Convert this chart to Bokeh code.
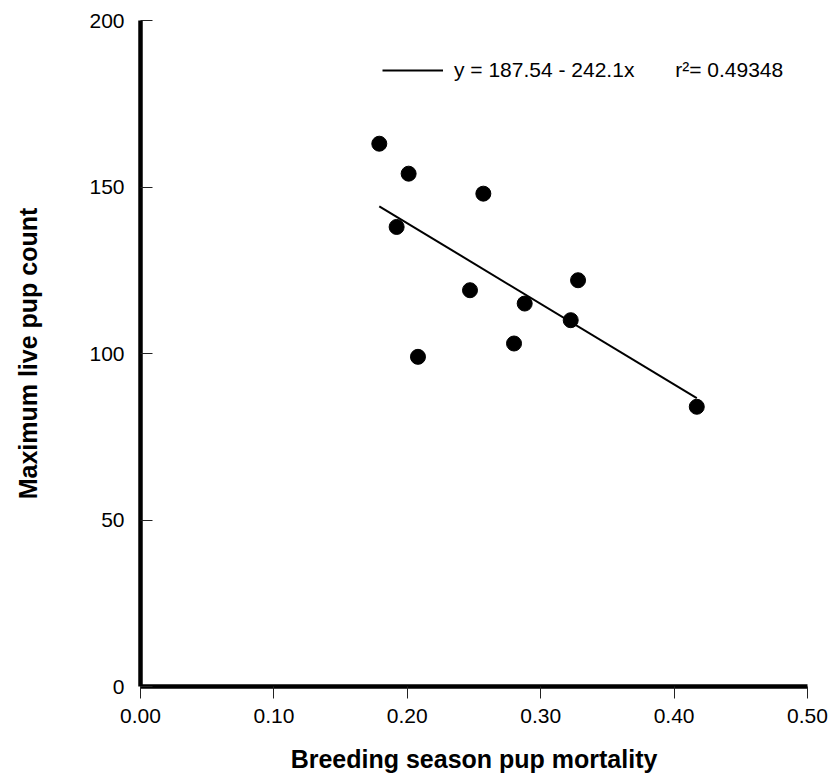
from bokeh.plotting import figure
from bokeh.models import Range1d, FixedTicker, Legend, LegendItem, NumeralTickFormatter
from bokeh.embed import file_html
from bokeh.resources import INLINE

# Data
mortality = [0.179, 0.201, 0.257, 0.192, 0.247, 0.288, 0.328, 0.3225, 0.280, 0.208, 0.417]
pup_count = [163, 154, 148, 138, 119, 115, 122, 110, 103, 99, 84]

# Regression shown on the chart
intercept = 187.54
slope = -242.1
r_squared = 0.49348

x_ticks = [0.0, 0.1, 0.2, 0.3, 0.4, 0.5]
y_ticks = [0, 50, 100, 150, 200]

x_title = "Breeding season pup mortality"
y_title = "Maximum live pup count"

FONT = "Liberation Sans"

p = figure(width=831, height=780,
           x_range=Range1d(0, 0.5), y_range=Range1d(0, 200),
           output_backend="svg", toolbar_location=None,
           min_border_left=140, min_border_right=24,
           min_border_top=20, min_border_bottom=94)

p.grid.visible = False
p.outline_line_color = None
p.background_fill_color = "white"
p.border_fill_color = "white"

# Regression line across the data range
fit_x = [min(mortality), max(mortality)]
fit_y = [intercept + slope * v for v in fit_x]
fit = p.line(fit_x, fit_y, line_color="black", line_width=2)

p.scatter(mortality, pup_count, size=15, marker="circle",
          fill_color="black", line_color="black")

# X axis
xa = p.xaxis[0]
xa.ticker = FixedTicker(ticks=x_ticks)
xa.formatter = NumeralTickFormatter(format="0.00")
xa.axis_line_width = 4.5
xa.axis_line_color = "black"
xa.major_tick_in = 0
xa.major_tick_out = 12
xa.major_tick_line_color = "#222222"
xa.major_tick_line_width = 1
xa.minor_tick_line_color = None
xa.major_label_text_font = FONT
xa.major_label_text_font_size = "21px"
xa.major_label_text_color = "black"
xa.major_label_standoff = 10
xa.axis_label = x_title
xa.axis_label_text_font = FONT
xa.axis_label_text_font_size = "25px"
xa.axis_label_text_font_style = "bold"
xa.axis_label_text_color = "black"
xa.axis_label_standoff = 19

# Y axis
ya = p.yaxis[0]
ya.ticker = FixedTicker(ticks=y_ticks)
ya.axis_line_width = 4.5
ya.axis_line_color = "black"
ya.major_tick_in = 12
ya.major_tick_out = 0
ya.major_tick_line_color = "#222222"
ya.major_tick_line_width = 1
ya.minor_tick_line_color = None
ya.major_label_text_font = FONT
ya.major_label_text_font_size = "21px"
ya.major_label_text_color = "black"
ya.major_label_standoff = 16
ya.axis_label = y_title
ya.axis_label_text_font = FONT
ya.axis_label_text_font_size = "25px"
ya.axis_label_text_font_style = "bold"
ya.axis_label_text_color = "black"
ya.axis_label_standoff = 44

label = ("y = %.2f - %.1fx" % (intercept, -slope)) + "\u00a0" * 7 + ("r\u00b2= %.5f" % r_squared)
legend = Legend(items=[LegendItem(label=label, renderers=[fit])],
                location=(242, 604), glyph_width=61, label_standoff=11,
                padding=0, margin=0, spacing=0,
                border_line_color=None, background_fill_alpha=0,
                label_text_font=FONT, label_text_font_size="21px",
                label_text_color="black")
p.add_layout(legend)

open("out.html", "w").write(file_html(p, INLINE))
